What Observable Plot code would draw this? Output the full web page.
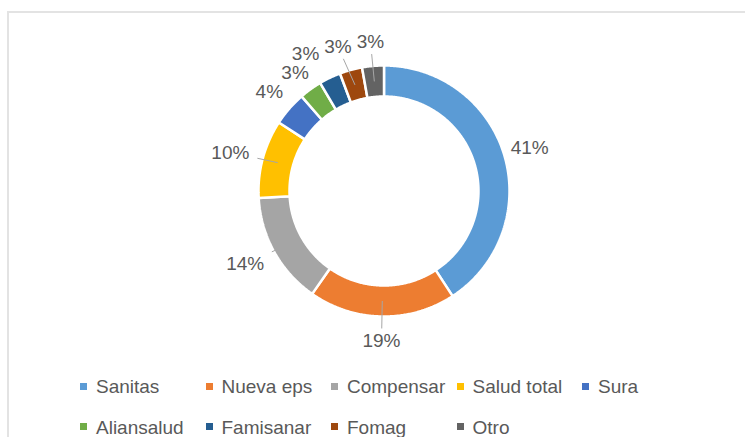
<!DOCTYPE html>
<html><head><meta charset="utf-8">
<script src="https://cdn.jsdelivr.net/npm/d3@7"></script>
<script src="https://cdn.jsdelivr.net/npm/@observablehq/plot@0.6"></script>
<style>
body{margin:0;background:#fff;font-family:"Liberation Sans",Arial,sans-serif;}
#wrap{position:relative;width:745px;height:437px;overflow:hidden;background:#fff;}
#frame{position:absolute;left:7px;top:11px;right:-10px;bottom:-10px;border-left:2px solid #e3e3e3;border-top:2px solid #e3e3e3;}
#chart{position:absolute;left:0;top:0;}
.lg-text{position:absolute;font-size:19px;line-height:19px;color:#595959;white-space:nowrap;}
.lg-sw{position:absolute;width:7px;height:7px;}
</style></head><body>
<div id="wrap"><div id="frame"></div><div id="chart"></div><div id="legend"></div></div>
<script>
const categories = ["Sanitas","Nueva eps","Compensar","Salud total","Sura","Aliansalud","Famisanar","Fomag","Otro"];
const shares = [40.8, 18.9, 14.4, 10.1, 4.4, 2.9, 2.8, 2.9, 2.8];
const colors = ["#5B9BD5","#ED7D31","#A5A5A5","#FFC000","#4472C4","#70AD47","#255E91","#9E480E","#636363"];
const withLeader = new Set(["Nueva eps","Compensar","Salud total","Fomag","Otro"]);

const W = 745, H = 370, cx = 383.5, cy = 190.5;
const rOuter = 125.5, rInner = 94.5, rLeader = 110;
const rLabel = 152, rLabelEdge = 140;
const fontSize = 19, halfH = 9.5;

const rows = categories.map((name, i) => ({name, value: shares[i]}));
const arcs = d3.pie().sort(null).value(d => d.value)(rows);

// polygon vertices of each ring slice, from the pie angles
const pts = [];
const step = Math.PI / 360;
for (const a of arcs) {
  const n = Math.max(2, Math.ceil((a.endAngle - a.startAngle) / step));
  const ring = [];
  for (let k = 0; k <= n; k++) {
    const t = a.startAngle + (a.endAngle - a.startAngle) * k / n;
    ring.push({name: a.data.name, x: rOuter * Math.sin(t), y: rOuter * Math.cos(t)});
  }
  for (let k = n; k >= 0; k--) {
    const t = a.startAngle + (a.endAngle - a.startAngle) * k / n;
    ring.push({name: a.data.name, x: rInner * Math.sin(t), y: rInner * Math.cos(t)});
  }
  ring.push({...ring[0]});
  pts.push(...ring);
}

// label placement: outside end; on collision the earlier label moves sideways or down
const labels = arcs.map(a => {
  const m = (a.startAngle + a.endAngle) / 2;
  const text = Math.round(a.data.value) + "%";
  const hw = ((text.length - 1) * 0.556 + 0.889) * fontSize / 2;
  const s = Math.sin(m), c = Math.cos(m);
  const leader = withLeader.has(a.data.name);
  const x = leader ? rLabelEdge * s + hw * s : rLabel * s;
  const y = leader ? rLabelEdge * c + halfH * c : rLabel * c;
  return {name: a.data.name, m, text, hw, leader, x, y};
});
const lineGap = 19;
for (let i = labels.length - 2; i >= 0; i--) {
  const a = labels[i], b = labels[i + 1];
  const need = a.hw + b.hw + 5;
  const dy = Math.abs(a.y - b.y);
  if (Math.abs(a.x - b.x) < need && dy < lineGap) {
    if (dy < 13) a.x = b.x - need;
    else a.y = a.y < b.y ? b.y - lineGap : b.y + lineGap;
  }
}

const leaders = labels.filter(l => l.leader).map(l => {
  const px = rLeader * Math.sin(l.m), py = rLeader * Math.cos(l.m);
  const dx = px - l.x, dy = py - l.y;
  const bx = l.hw + 8, by = 12;
  const t = Math.min(Math.abs(dx) > 1e-6 ? bx / Math.abs(dx) : Infinity, Math.abs(dy) > 1e-6 ? by / Math.abs(dy) : Infinity);
  return {x1: l.x + t * dx, y1: l.y + t * dy, x2: px, y2: py};
});

const plot = Plot.plot({
  width: W, height: H, margin: 0,
  x: {domain: [-cx, W - cx], range: [0, W], axis: null},
  y: {domain: [cy - H, cy], range: [H, 0], axis: null},
  color: {domain: categories, range: colors},
  style: {background: "transparent", fontFamily: "'Liberation Sans', Arial, sans-serif"},
  marks: [
    Plot.line(pts, {x: "x", y: "y", z: "name", fill: "name", stroke: "white", strokeWidth: 2.5, strokeLinejoin: "miter"}),
    Plot.link(leaders, {x1: "x1", y1: "y1", x2: "x2", y2: "y2", stroke: "#a6a6a6", strokeWidth: 1}),
    Plot.text(labels, {x: "x", y: "y", text: "text", fill: "#595959", fontSize, textAnchor: "middle", lineAnchor: "middle"})
  ]
});
document.getElementById("chart").appendChild(plot);

// legend
const legend = document.getElementById("legend");
categories.forEach((name, i) => {
  const row = Math.floor(i / 5), col = i % 5;
  const left = 80 + col * 125.5;
  const capMid = 386 + row * 40.5;
  const sw = document.createElement("div");
  sw.className = "lg-sw";
  sw.style.left = left + "px";
  sw.style.top = (capMid - 3.5) + "px";
  sw.style.background = colors[i];
  legend.appendChild(sw);
  const tx = document.createElement("div");
  tx.className = "lg-text";
  tx.style.left = (left + 16) + "px";
  tx.style.top = (capMid - 9) + "px";
  tx.textContent = name;
  legend.appendChild(tx);
});
</script>
</body></html>
